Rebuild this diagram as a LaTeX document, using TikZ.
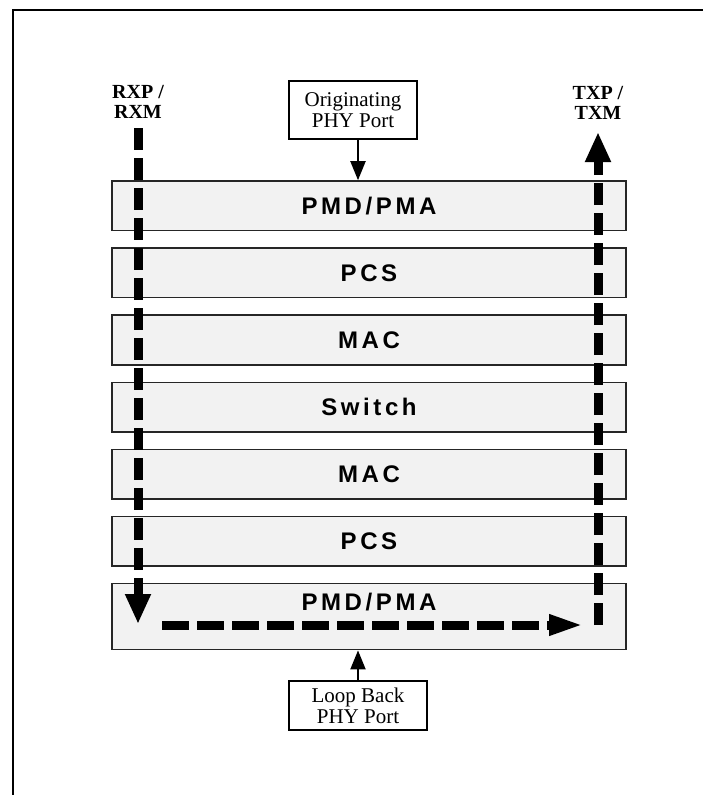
\documentclass[tikz,border=0pt]{standalone}
\usepackage{fontspec}
\setmainfont{Liberation Serif}
\newfontfamily\layerfont{Liberation Sans}[LetterSpace=15]
\usepackage{tikz}
\usetikzlibrary{positioning,arrows.meta}

\definecolor{layerfill}{gray}{0.95}
\tikzset{
  layer/.style={draw=black!85, line width=1.6pt, fill=layerfill, minimum width=514pt,
    minimum height=49.5pt, inner sep=0pt, font=\layerfont\bfseries\fontsize{24}{26}\selectfont},
  layerlbl/.style={inner sep=0pt, font=\layerfont\bfseries\fontsize{24}{26}\selectfont},
  port/.style={draw, line width=2pt, fill=white, align=center, inner sep=0pt,
    font=\fontsize{21}{21}\selectfont},
  sig/.style={align=center, inner sep=0pt, font=\bfseries\fontsize{20}{20}\selectfont},
  flow/.style={line width=9pt, dash pattern=on 22pt off 8pt, -{Triangle[length=30pt,width=24pt]}},
  feed/.style={line width=2pt, -{Triangle[length=19pt,width=15pt]}}
}

\begin{document}
\begin{tikzpicture}[x=1pt,y=1pt]
    \useasboundingbox (0,0) rectangle (703,-795);
    \draw[line width=2pt] (13,-1000) -- (13,-10) -- (1000,-10);

    % protocol layers, top to bottom
    \node[layer] (pmdT) at (369,-205.75) {PMD/PMA};
    \node[layer, below=16pt of pmdT] (pcsT) {PCS};
    \node[layer, below=16pt of pcsT] (macT) {MAC};
    \node[layer, below=16pt of macT] (sw) {Switch};
    \node[layer, below=16pt of sw] (macB) {MAC};
    \node[layer, below=16pt of macB] (pcsB) {PCS};
    \node[layer, below=16pt of pcsB, minimum height=66pt] (pmdB) {};
    \node[layerlbl, below=10pt of pmdB.north] (pmdBlbl) {PMD/PMA};

    % ports
    \node[port, minimum width=128pt, minimum height=58pt] (orig) at (353,-110) {Originating\\PHY Port};
    \node[port, minimum width=138pt, minimum height=49pt] (loop) at (358,-705.5) {Loop Back\\PHY Port};
    \draw[feed] ([xshift=5pt]orig.south) -- ([xshift=5pt]orig.south |- pmdT.north);
    \draw[feed] (loop.north) -- (loop.north |- pmdB.south);

    % loop back path
    \coordinate (rxtop) at (138,-128);
    \coordinate (rxbot) at (138,-624);
    \coordinate (lpL) at (162,-625);
    \coordinate (lpR) at (584,-625);
    \coordinate (txbot) at (598,-625);
    \coordinate (txtop) at (598,-132);
    \draw[flow] (rxtop) -- (rxbot);
    \draw[flow, dash pattern=on 27pt off 8pt, -{Triangle[length=35pt,width=19pt]}] (lpL) -- (lpR);
    \draw[flow] (txbot) -- (txtop);

    \node[sig, above=9pt of rxtop] (rxlbl) {RXP /\\RXM};
    \node[sig, above=12pt of txtop] (txlbl) {TXP /\\TXM};
\end{tikzpicture}
\end{document}
